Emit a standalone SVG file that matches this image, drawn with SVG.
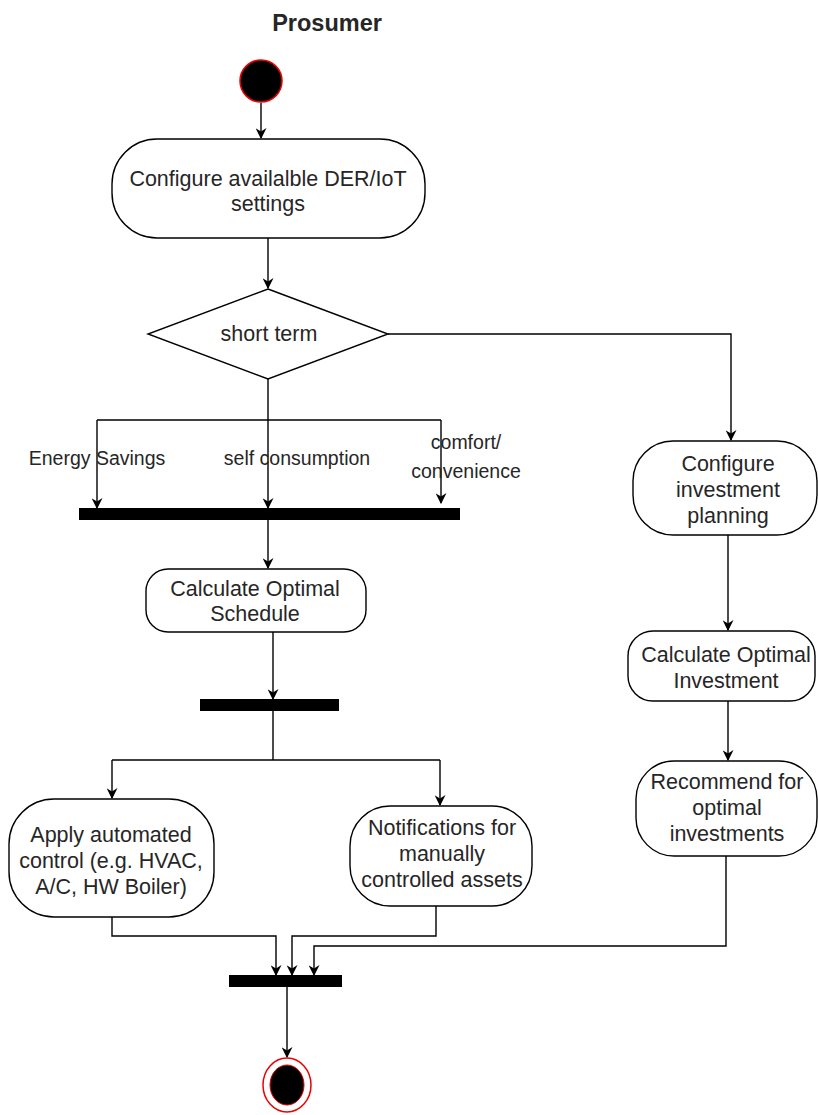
<svg xmlns="http://www.w3.org/2000/svg" width="818" height="1115" viewBox="0 0 818 1115">
  <defs>
    <marker id="arrow" viewBox="0 0 10 10" refX="9" refY="5" markerWidth="11" markerHeight="11" markerUnits="userSpaceOnUse" orient="auto">
      <path d="M0,0 L10,5 L0,10 L3,5 Z" fill="#000"/>
    </marker>
    <style>
      .act { fill: #fff; stroke: #000; stroke-width: 1.4; }
      .bar { fill: #000; }
      .lbl { font-family: "Liberation Sans", Arial, sans-serif; font-size: 21.5px; fill: #262626; text-anchor: middle; }
      .edge-lbl { font-family: "Liberation Sans", Arial, sans-serif; font-size: 19.5px; fill: #262626; text-anchor: middle; }
      .title { font-family: "Liberation Sans", Arial, sans-serif; font-size: 23.5px; font-weight: bold; fill: #262626; text-anchor: middle; }
      .conn { fill: none; stroke: #000; stroke-width: 1.4; }
      .conn-a { fill: none; stroke: #000; stroke-width: 1.4; marker-end: url(#arrow); }
    </style>
  </defs>
  <rect width="818" height="1115" fill="#fff"/>

  <text class="title" x="327" y="31">Prosumer</text>

  <!-- connectors -->
  <g id="connectors">
    <path class="conn-a" d="M261,103 V138"/>
    <path class="conn-a" stroke-width="2.2" d="M268,238 V288"/>
    <path class="conn" d="M268,379 V420 M97,420 H441"/>
    <path class="conn-a" d="M97,420 V508"/>
    <path class="conn-a" d="M268,420 V508"/>
    <path class="conn-a" d="M441,420 V503"/>
    <path class="conn-a" d="M268,520 V568"/>
    <path class="conn-a" d="M273,632 V699"/>
    <path class="conn" d="M273,711 V760 H440 M273,760 H112"/>
    <path class="conn-a" d="M112,760 V798"/>
    <path class="conn-a" d="M440,760 V805"/>
    <path class="conn-a" d="M388,334 H731 V440"/>
    <path class="conn-a" d="M728,535 V630"/>
    <path class="conn-a" d="M728,701 V760"/>
    <path class="conn-a" d="M112,917 V936 H276 V975"/>
    <path class="conn-a" d="M436,906 V936 H292 V975"/>
    <path class="conn-a" d="M726,856 V946 H314 V975"/>
    <path class="conn-a" d="M287,987 V1057"/>
  </g>

  <!-- edge labels -->
  <g id="edge-labels">
    <text class="edge-lbl" x="97" y="465">Energy Savings</text>
    <text class="edge-lbl" x="297" y="465">self consumption</text>
    <text class="edge-lbl" x="466" y="449">comfort/</text>
    <text class="edge-lbl" x="466" y="478">convenience</text>
  </g>

  <g id="start">
    <circle cx="261" cy="81" r="21" fill="#000" stroke="#e00" stroke-width="1.5"/>
  </g>

  <g id="configure-der">
    <rect class="act" x="112" y="139" width="313" height="99" rx="45"/>
    <text class="lbl" x="268" y="186">Configure availalble DER/IoT</text>
    <text class="lbl" x="268" y="211">settings</text>
  </g>

  <g id="decision-short-term">
    <polygon class="act" points="268,289 388,334 268,379 148,334"/>
    <text class="lbl" x="269" y="341">short term</text>
  </g>

  <g id="join-goals">
    <rect class="bar" x="79" y="508" width="381" height="12"/>
  </g>

  <g id="calc-schedule">
    <rect class="act" x="146" y="569" width="220" height="63" rx="22"/>
    <text class="lbl" x="255" y="596">Calculate Optimal</text>
    <text class="lbl" x="255" y="621">Schedule</text>
  </g>

  <g id="fork-actions">
    <rect class="bar" x="200" y="699" width="139" height="12"/>
  </g>

  <g id="apply-control">
    <rect class="act" x="9" y="799" width="205" height="118" rx="45"/>
    <text class="lbl" x="111" y="842">Apply automated</text>
    <text class="lbl" x="111" y="868">control (e.g. HVAC,</text>
    <text class="lbl" x="111" y="894">A/C, HW Boiler)</text>
  </g>

  <g id="notifications">
    <rect class="act" x="350" y="806" width="182" height="100" rx="40"/>
    <text class="lbl" x="442" y="835">Notifications for</text>
    <text class="lbl" x="442" y="861">manually</text>
    <text class="lbl" x="442" y="887">controlled assets</text>
  </g>

  <g id="configure-investment">
    <rect class="act" x="633" y="441" width="184" height="94" rx="40"/>
    <text class="lbl" x="728" y="471">Configure</text>
    <text class="lbl" x="728" y="497">investment</text>
    <text class="lbl" x="728" y="523">planning</text>
  </g>

  <g id="calc-investment">
    <rect class="act" x="628" y="631" width="187" height="70" rx="25"/>
    <text class="lbl" x="726" y="662">Calculate Optimal</text>
    <text class="lbl" x="726" y="688">Investment</text>
  </g>

  <g id="recommend">
    <rect class="act" x="636" y="761" width="181" height="95" rx="38"/>
    <text class="lbl" x="727" y="789">Recommend for</text>
    <text class="lbl" x="727" y="815">optimal</text>
    <text class="lbl" x="727" y="841">investments</text>
  </g>

  <g id="join-final">
    <rect class="bar" x="229" y="975" width="113" height="12"/>
  </g>

  <g id="end">
    <ellipse cx="287" cy="1085" rx="24" ry="27" fill="#fff" stroke="#e00" stroke-width="1.5"/>
    <ellipse cx="287" cy="1085" rx="17" ry="20" fill="#000" stroke="#e00" stroke-width="1"/>
  </g>
</svg>
